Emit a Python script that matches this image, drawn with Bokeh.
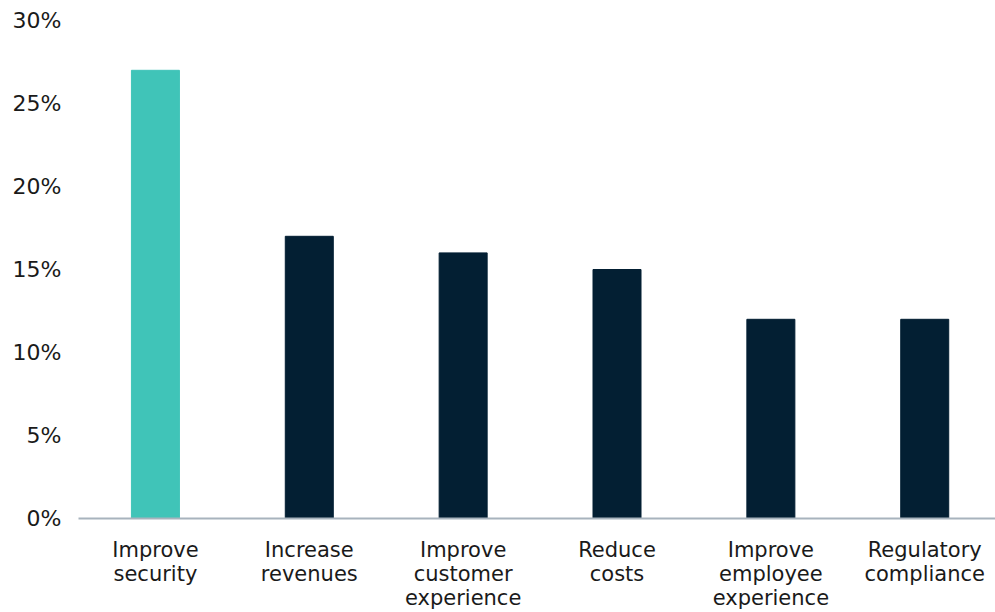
from bokeh.plotting import figure
from bokeh.models import Range1d, FixedTicker, PrintfTickFormatter, ColumnDataSource
from bokeh.embed import file_html
from bokeh.resources import INLINE

# Survey results: main drivers, share of respondents (%)
categories = ["Improve\nsecurity", "Increase\nrevenues", "Improve\ncustomer\nexperience",
              "Reduce\ncosts", "Improve\nemployee\nexperience", "Regulatory\ncompliance"]
shares = [27, 17, 16, 15, 12, 12]
colors = ["#40C4B8", "#031F33", "#031F33", "#031F33", "#031F33", "#031F33"]
y_ticks = [0, 5, 10, 15, 20, 25, 30]

FONT = "DejaVu Sans"

positions = [i + 0.5 for i in range(len(categories))]
source = ColumnDataSource(dict(x=positions, top=shares, color=colors))

p = figure(width=995, height=612, output_backend="svg", toolbar_location=None,
           x_range=Range1d(0, 5.96), y_range=Range1d(0, 30),
           min_border_left=78, min_border_right=0, min_border_top=20, min_border_bottom=94)

p.vbar(x="x", top="top", width=0.312, color="color", source=source)

p.outline_line_color = None
p.xgrid.grid_line_color = None
p.ygrid.grid_line_color = None
p.background_fill_color = "white"
p.border_fill_color = "white"

# x axis: category labels under each bar
p.xaxis.ticker = FixedTicker(ticks=positions)
p.xaxis.major_label_overrides = {pos: lab for pos, lab in zip(positions, categories)}
p.xaxis.axis_line_color = "#A8B3BD"
p.xaxis.axis_line_width = 2
p.xaxis.major_tick_line_color = None
p.xaxis.minor_tick_line_color = None
p.xaxis.major_label_text_font = FONT
p.xaxis.major_label_text_font_size = "21px"
p.xaxis.major_label_text_color = "#1a1a1a"
p.xaxis.major_label_text_line_height = 1.0
p.xaxis.major_label_standoff = 13

# y axis: percentage labels only
p.yaxis.ticker = FixedTicker(ticks=y_ticks)
p.yaxis.formatter = PrintfTickFormatter(format="%d%%")
p.yaxis.axis_line_color = None
p.yaxis.major_tick_line_color = None
p.yaxis.minor_tick_line_color = None
p.yaxis.major_label_text_font = FONT
p.yaxis.major_label_text_font_size = "22px"
p.yaxis.major_label_text_color = "#1a1a1a"
p.yaxis.major_label_standoff = 11

open("out.html", "w").write(file_html(p, INLINE))
